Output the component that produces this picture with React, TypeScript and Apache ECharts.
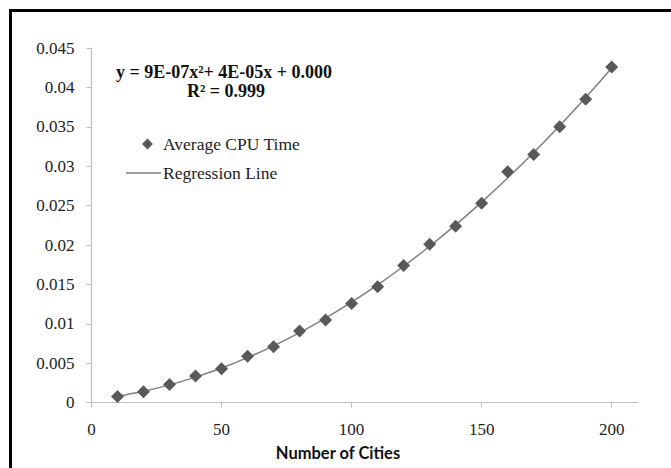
import React, { useEffect, useRef } from "react";
import * as echarts from "echarts";

const cities = [10, 20, 30, 40, 50, 60, 70, 80, 90, 100, 110, 120, 130, 140, 150, 160, 170, 180, 190, 200];
const cpuTime = [
  0.0008, 0.0014, 0.0023, 0.0034, 0.0043, 0.0059, 0.0071, 0.0091, 0.0105, 0.0126,
  0.0147, 0.0174, 0.0201, 0.0224, 0.0253, 0.0293, 0.0315, 0.035, 0.0385, 0.0426,
];
const xTicks = [0, 50, 100, 150, 200];
const equationText = "y = 9E-07x\u00b2+ 4E-05x + 0.000";
const r2Text = "R\u00b2 = 0.999";
const xTitle = "Number of Cities";

// least-squares quadratic fit of the data
function quadFit(xs: number[], ys: number[]) {
  let s0 = 0, s1 = 0, s2 = 0, s3 = 0, s4 = 0, t0 = 0, t1 = 0, t2 = 0;
  for (let i = 0; i < xs.length; i++) {
    const x = xs[i], y = ys[i];
    s0 += 1; s1 += x; s2 += x * x; s3 += x * x * x; s4 += x * x * x * x;
    t0 += y; t1 += x * y; t2 += x * x * y;
  }
  const A = [
    [s4, s3, s2, t2],
    [s3, s2, s1, t1],
    [s2, s1, s0, t0],
  ];
  for (let c = 0; c < 3; c++) {
    for (let r = c + 1; r < 3; r++) {
      const f = A[r][c] / A[c][c];
      for (let k = c; k < 4; k++) A[r][k] -= f * A[c][k];
    }
  }
  const sol = [0, 0, 0];
  for (let r = 2; r >= 0; r--) {
    let v = A[r][3];
    for (let k = r + 1; k < 3; k++) v -= A[r][k] * sol[k];
    sol[r] = v / A[r][r];
  }
  return sol; // a, b, c
}

export default function App() {
  const ref = useRef<HTMLDivElement>(null);
  useEffect(() => {
    document.body.style.margin = "0";
    if (!ref.current) return;
    const chart = echarts.init(ref.current, undefined, { renderer: "svg" });
    const [a, b, c] = quadFit(cities, cpuTime);
    const fitted = cities.map((x) => [x, a * x * x + b * x + c]);
    const serif = "'Liberation Serif', 'Times New Roman', serif";
    chart.setOption({
      animation: false,
      backgroundColor: "#ffffff",
      grid: { left: 91.5, right: 33.3, top: 48, bottom: 65.3, containLabel: false, outerBoundsMode: "none" },
      xAxis: {
        type: "value",
        min: 0,
        max: 210,
        interval: 50,
        axisLine: { show: true, lineStyle: { color: "#BFBFBF", width: 1.2 } },
        axisTick: { show: true, length: 5, lineStyle: { color: "#BFBFBF" }, customValues: xTicks },
        axisLabel: { customValues: xTicks, margin: 18, color: "#222", fontFamily: serif, fontSize: 17 },
        splitLine: { show: false },
      },
      yAxis: {
        type: "value",
        min: 0,
        max: 0.045,
        interval: 0.005,
        axisLine: { show: true, lineStyle: { color: "#BFBFBF", width: 1.2 } },
        axisTick: { show: true, length: 5, lineStyle: { color: "#BFBFBF" } },
        axisLabel: { margin: 17, color: "#222", fontFamily: serif, fontSize: 17 },
        splitLine: { show: false },
      },
      legend: [
        {
          data: ["Average CPU Time"],
          left: 142,
          top: 134,
          padding: 0,
          itemWidth: 11,
          itemHeight: 11,
          icon: "diamond",
          itemStyle: { opacity: 1 },
          textStyle: { fontFamily: serif, fontSize: 17.5, color: "#222", lineHeight: 20, padding: [0, 0, 0, 5] },
        },
        {
          data: [{ name: "Regression Line", icon: "rect" }],
          left: 126,
          top: 163,
          padding: 0,
          itemWidth: 35,
          itemHeight: 1.5,
          itemStyle: { color: "#7F7F7F", borderWidth: 0 },
          textStyle: { fontFamily: serif, fontSize: 17.5, color: "#222", lineHeight: 20, padding: [0, 0, 0, -3] },
        },
      ],
      series: [
        {
          name: "Regression Line",
          type: "line",
          data: fitted,
          smooth: 0.4,
          symbol: "none",
          showSymbol: false,
          lineStyle: { color: "#7F7F7F", width: 1.5 },
          itemStyle: { color: "#7F7F7F" },
          z: 2,
        },
        {
          name: "Average CPU Time",
          type: "scatter",
          data: cities.map((x, i) => [x, cpuTime[i]]),
          symbol: "diamond",
          symbolSize: 13,
          itemStyle: { color: "#595959", opacity: 1 },
          z: 3,
        },
      ],
      graphic: [
        {
          type: "rect",
          shape: { x: 10.5, y: 10.5, width: 720, height: 520 },
          style: { fill: "none", stroke: "#000", lineWidth: 3 },
          silent: true,
        },
        {
          type: "text",
          x: 224,
          y: 72,
          style: {
            text: equationText,
            fontFamily: serif,
            fontWeight: "bold",
            fontSize: 18,
            fill: "#111",
            textAlign: "center",
            textVerticalAlign: "middle",
          },
        },
        {
          type: "text",
          x: 226,
          y: 91,
          style: {
            text: r2Text,
            fontFamily: serif,
            fontWeight: "bold",
            fontSize: 18,
            fill: "#111",
            textAlign: "center",
            textVerticalAlign: "middle",
          },
        },
        {
          type: "text",
          x: 338,
          y: 453,
          style: {
            text: xTitle,
            fontFamily: "Lato, 'Open Sans', sans-serif",
            fontWeight: "bold",
            fontSize: 16.5,
            fill: "#111",
            textAlign: "center",
            textVerticalAlign: "middle",
          },
        },
      ],
    });
    return () => chart.dispose();
  }, []);
  return <div ref={ref} style={{ width: 671, height: 468 }} />;
}
